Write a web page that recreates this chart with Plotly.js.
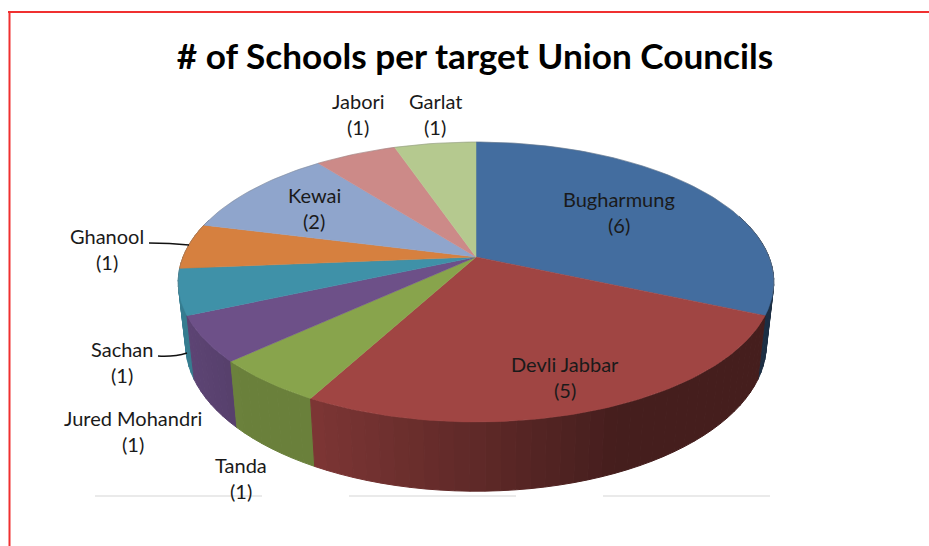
<!DOCTYPE html>
<html>
<head>
<meta charset="utf-8">
<script src="https://cdn.plot.ly/plotly-3.0.1.min.js"></script>
<style>html,body{margin:0;padding:0;background:#fff}</style>
</head>
<body>
<div id="chart" style="width:929px;height:546px"></div>
<script>
// Schools per union council, clockwise from twelve o'clock
const councils = ["Bugharmung", "Devli Jabbar", "Tanda", "Jured Mohandri", "Sachan", "Ghanool", "Kewai", "Jabori", "Garlat"];
const schools = [6, 5, 1, 1, 1, 1, 2, 1, 1];
const sliceColors = ["#436d9f", "#a04543", "#88a44c", "#6d5088", "#3f91a8", "#d6803f", "#8fa5cc", "#cc8a88", "#b5c98f"];

// Label anchors, in page pixels; the count sits one line below the name
const labelX = [618.5, 564.5, 241, 132.5, 122, 107, 314, 358, 435];
const labelY = [199, 364, 465, 418, 349, 236, 195, 101, 101];
const labelLineGap = 26;

// Tilted-disc projection of the pie
const centerX = 476, centerY = 257, radiusX = 293, radiusY = 135.5, perspective = 0.1786;
const baseScaleX = 0.975, baseScaleY = 1.05, baseY = 318;

function project(deg) {
  const t = deg * Math.PI / 180, w = 1 + perspective * Math.cos(t);
  return { X: radiusX * Math.sin(t) / w, Y: -radiusY * Math.cos(t) / w };
}
const topPoint = d => { const p = project(d); return [centerX + p.X, centerY + p.Y]; };
const basePoint = d => { const p = project(d); return [centerX + baseScaleX * p.X, baseY + baseScaleY * p.Y]; };

function rgb(hex) { return [1, 3, 5].map(i => parseInt(hex.substr(i, 2), 16)); }
// Wall shading: lit on the left, falling into shadow towards the right
function wallShade(x) {
  const stops = [[180, 0.86], [240, 0.78], [310, 0.78], [620, 0.43], [800, 0.43]];
  for (let i = 1; i < stops.length; i++) {
    if (x <= stops[i][0]) {
      const f = Math.max(0, (x - stops[i - 1][0]) / (stops[i][0] - stops[i - 1][0]));
      return stops[i - 1][1] + f * (stops[i][1] - stops[i - 1][1]);
    }
  }
  return 0.43;
}
function shaded(hex, k) { return "rgb(" + rgb(hex).map(c => Math.round(c * k)).join(",") + ")"; }

const total = schools.reduce((a, b) => a + b, 0);
const ranges = [];
schools.reduce((start, n, i) => {
  const end = start + 360 * n / total;
  ranges.push({ start, end, color: sliceColors[i] });
  return end;
}, 0);

// Outer wall strips, painted back to front
const strips = [];
ranges.forEach(r => {
  const count = Math.max(1, Math.ceil((r.end - r.start) / 2.5));
  for (let i = 0; i < count; i++) {
    const a = r.start + (r.end - r.start) * i / count;
    const b = r.start + (r.end - r.start) * (i + 1) / count;
    const mid = (a + b) / 2;
    if (Math.cos(mid * Math.PI / 180) < 0.3) strips.push({ a, b, mid, color: r.color });
  }
});
strips.sort((p, q) => Math.cos(q.mid * Math.PI / 180) - Math.cos(p.mid * Math.PI / 180));

const traces = strips.map(s => {
  const pts = [topPoint(s.a), topPoint(s.b), basePoint(s.b), basePoint(s.a), topPoint(s.a)];
  const col = shaded(s.color, wallShade(topPoint(s.mid)[0]));
  return {
    type: "scatter", mode: "lines", fill: "toself", fillcolor: col,
    x: pts.map(p => p[0]), y: pts.map(p => p[1]),
    line: { color: col, width: 1 }, hoverinfo: "skip", showlegend: false
  };
});

// Top face of each slice
ranges.forEach((r, i) => {
  const pts = [[centerX, centerY]];
  for (let d = r.start; d < r.end; d += 1) pts.push(topPoint(d));
  pts.push(topPoint(r.end), [centerX, centerY]);
  traces.push({
    type: "scatter", mode: "lines", fill: "toself", fillcolor: r.color, name: councils[i],
    x: pts.map(p => p[0]), y: pts.map(p => p[1]),
    line: { color: r.color, width: 0.5 }, hoverinfo: "name", showlegend: false
  });
});

// Soft grey rim along the far edge of the disc
const rim = [];
for (let d = 255; d <= 465; d += 2) rim.push(topPoint(d));
traces.push({
  type: "scatter", mode: "lines", x: rim.map(p => p[0]), y: rim.map(p => p[1]),
  line: { color: "rgba(120,120,120,0.35)", width: 1 }, hoverinfo: "skip", showlegend: false
});

const annotations = [];
councils.forEach((name, i) => {
  [[name, labelY[i]], ["(" + schools[i] + ")", labelY[i] + labelLineGap]].forEach(([text, y]) => {
    annotations.push({
      x: labelX[i], y, xref: "x", yref: "y", text, showarrow: false,
      xanchor: "center", yanchor: "middle",
      font: { family: "Lato, 'Open Sans', sans-serif", size: 20, color: "#1a1a1a" }
    });
  });
});

const shapes = [
  // Page frame
  { type: "line", xref: "x", yref: "y", x0: 9.5, x1: 9.5, y0: 11, y1: 546, line: { color: "#f03030", width: 2 } },
  { type: "line", xref: "x", yref: "y", x0: 8, x1: 929, y0: 12, y1: 12, line: { color: "#f03030", width: 2 } },
  // Faint rules under the pie
  { type: "line", xref: "x", yref: "y", x0: 95, x1: 262, y0: 496, y1: 496, line: { color: "#e3e3e3", width: 1.5 } },
  { type: "line", xref: "x", yref: "y", x0: 349, x1: 516, y0: 496, y1: 496, line: { color: "#e3e3e3", width: 1.5 } },
  { type: "line", xref: "x", yref: "y", x0: 603, x1: 770, y0: 496, y1: 496, line: { color: "#e3e3e3", width: 1.5 } },
  // Leader lines
  { type: "path", xref: "x", yref: "y", path: "M149 243 Q170 243 189 245", line: { color: "#111", width: 1.4 } },
  { type: "path", xref: "x", yref: "y", path: "M158 356 Q174 357 187 353", line: { color: "#111", width: 1.4 } }
];

const hiddenAxis = { visible: false, fixedrange: true, showgrid: false, zeroline: false };

Plotly.newPlot("chart", traces, {
  width: 929, height: 546,
  margin: { l: 0, r: 0, t: 0, b: 0 },
  paper_bgcolor: "#fff", plot_bgcolor: "#fff",
  showlegend: false,
  title: {
    text: "<b># of Schools per target Union Councils</b>",
    x: 475 / 929, xref: "paper", xanchor: "center",
    y: 1 - 57 / 546, yref: "paper", yanchor: "middle",
    font: { family: "Lato, 'Open Sans', sans-serif", size: 35.2, color: "#000" }
  },
  xaxis: Object.assign({ range: [0, 929] }, hiddenAxis),
  yaxis: Object.assign({ range: [546, 0] }, hiddenAxis),
  annotations, shapes
}, { displayModeBar: false });
</script>
</body>
</html>
